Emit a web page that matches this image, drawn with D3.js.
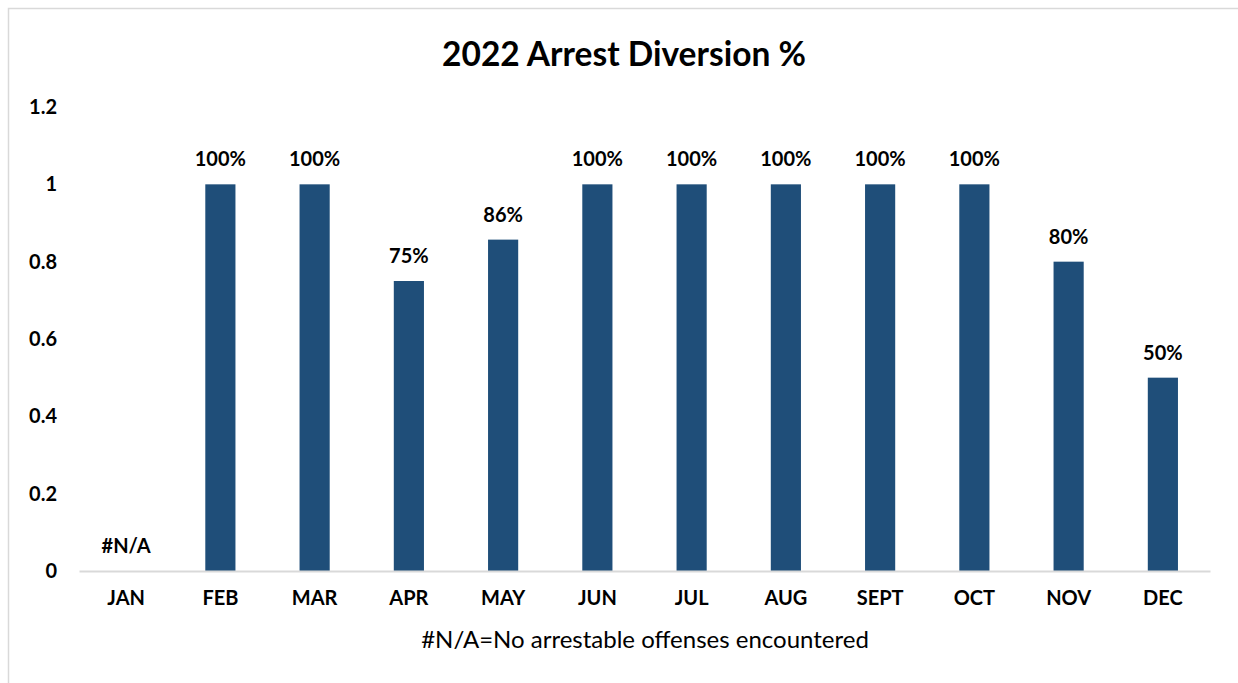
<!DOCTYPE html>
<html><head><meta charset="utf-8">
<script src="https://cdn.jsdelivr.net/npm/d3@7"></script>
<style>body{margin:0;background:#fff}svg{display:block}</style>
</head><body>
<script>
const months = ["JAN","FEB","MAR","APR","MAY","JUN","JUL","AUG","SEPT","OCT","NOV","DEC"];
const values = [null,1,1,0.75,0.857,1,1,1,1,1,0.8,0.5];
const labels = ["#N/A","100%","100%","75%","86%","100%","100%","100%","100%","100%","80%","50%"];
const yTicks = [0,0.2,0.4,0.6,0.8,1,1.2];
const title = "2022 Arrest Diversion %";
const note = "#N/A=No arrestable offenses encountered";

const W=1238,H=683;
const font="Lato, 'Open Sans', 'Liberation Sans', sans-serif";
const svg=d3.select("body").append("svg").attr("width",W).attr("height",H);
svg.append("rect").attr("x",8.5).attr("y",8.5).attr("width",W+10).attr("height",H+10)
  .attr("fill","#fff").attr("stroke","#d9d9d9").attr("stroke-width",1.5);

const pLeft=79,pRight=1210,pTop=107,pBottom=571;
const x=d3.scaleBand().domain(months).range([pLeft,pRight]).paddingInner(0.68).paddingOuter(0.34);
const y=d3.scaleLinear().domain([0,1.2]).range([pBottom,pTop]);

svg.append("text").attr("x",624).attr("y",66).attr("text-anchor","middle")
  .attr("font-family",font).attr("font-weight","bold").attr("font-size",33.5).attr("fill","#000").text(title);

const yAxis=svg.append("g").attr("transform",`translate(${pLeft},0)`)
  .call(d3.axisLeft(y).tickValues(yTicks).tickFormat(d=>String(+d.toFixed(1))).tickSize(0).tickPadding(22));
yAxis.select(".domain").remove();
yAxis.selectAll("text").attr("font-family",font).attr("font-weight","bold").attr("font-size",20).attr("fill","#000");

svg.append("g").selectAll("rect").data(months.map((m,i)=>({m,v:values[i]})).filter(d=>d.v!=null))
  .join("rect").attr("x",d=>x(d.m)).attr("y",d=>y(d.v)).attr("width",x.bandwidth())
  .attr("height",d=>pBottom-y(d.v)).attr("fill","#1f4e79");

const xAxis=svg.append("g").attr("transform",`translate(0,${pBottom})`)
  .call(d3.axisBottom(x).tickSize(0).tickPadding(20));
xAxis.select(".domain").attr("stroke","#d9d9d9").attr("stroke-width",2);
xAxis.selectAll("text").attr("font-family",font).attr("font-weight","bold").attr("font-size",20).attr("fill","#000");

svg.append("g").selectAll("text").data(months.map((m,i)=>({m,v:values[i],l:labels[i]})))
  .join("text").attr("x",d=>x(d.m)+x.bandwidth()/2).attr("y",d=>y(d.v==null?0:d.v)-18)
  .attr("text-anchor","middle").attr("font-family",font).attr("font-weight","bold").attr("font-size",20)
  .attr("fill","#000").text(d=>d.l);

svg.append("text").attr("x",645).attr("y",648).attr("text-anchor","middle")
  .attr("font-family",font).attr("font-size",24).attr("fill","#000").text(note);
</script>
</body></html>
